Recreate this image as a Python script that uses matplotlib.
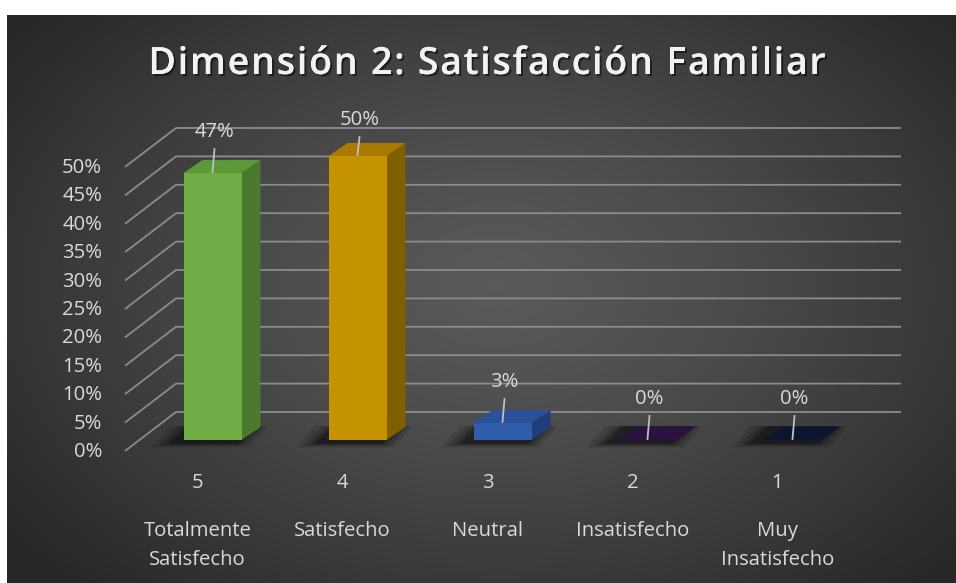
import numpy as np
import matplotlib.pyplot as plt
from matplotlib.patches import Polygon
import matplotlib.transforms as mtransforms
import matplotlib.patheffects as pe

W, H = 956, 583

titulo = 'Dimensión 2: Satisfacción Familiar'
niveles = ['5', '4', '3', '2', '1']
categorias = ['Totalmente\nSatisfecho', 'Satisfecho', 'Neutral', 'Insatisfecho', 'Muy\nInsatisfecho']
porcentajes = [47, 50, 3, 0, 0]
etiquetas = ['47%', '50%', '3%', '0%', '0%']
marcas_y = list(range(0, 55, 5))

color_frente = ['#70ad47', '#c59200', '#2f5cab', '#2b1242', '#0b1530']
color_lado = ['#4b7a2e', '#7f6000', '#1f3d78', '#1d0b2e', '#060d20']
color_tapa = ['#5c9a38', '#a87b00', '#2a519a', '#2b1242', '#0b1530']

texto = '#d9d9d9'
rejilla = '#8c8c8c'
fuente = 'Open Sans'
tam = 14.6

# px por unidad
px_x, px_y = 145.0, 5.68
x0_px, y0_px = 140.0, H - 440.0     # x=-0.5 y y=0 en pixeles
prof_barra = (19, 13)
prof_fondo = (36, 28)
prof_frente = (-15, -11)
ancho = 0.4

fig = plt.figure(figsize=(W / 100, H / 100), dpi=100)
fig.patch.set_facecolor('white')

# fondo con degradado radial
bg = fig.add_axes([7 / W, 0, 1 - 7 / W, 1 - 15 / H])
bg.set_axis_off()
yy, xx = np.mgrid[0:568, 0:949]
r = np.sqrt(((xx - 490) / 620.0) ** 2 + ((yy - 270) / 420.0) ** 2)
r = np.clip(r, 0, 1)
val = 0.35 - (0.35 - 0.15) * r ** 1.3
bg.imshow(np.dstack([val, val, val]), aspect='auto', interpolation='bilinear')

ax = fig.add_axes([0, 0, 1, 1])
ax.set_axis_off()
ax.patch.set_alpha(0)
xl = -0.5 - x0_px / px_x
yl = -y0_px / px_y
ax.set_xlim(xl, xl + W / px_x)
ax.set_ylim(yl, yl + H / px_y)

ident = mtransforms.IdentityTransform()


def pt(x, y, d=(0, 0)):
    p = ax.transData.transform((x, y))
    return (p[0] + d[0], p[1] + d[1])


# rejilla: pared del fondo y diagonales
n = len(niveles)
for v in marcas_y:
    a = pt(-0.5, v, prof_frente)
    b = pt(-0.5, v, prof_fondo)
    c = pt(n - 0.5, v, prof_fondo)
    ax.plot([a[0], b[0], c[0]], [a[1], b[1], c[1]], color=rejilla, lw=1.3,
            transform=ident, zorder=1, solid_capstyle='butt')
    lx, ly = pt(-0.5, v, (prof_frente[0] - 23, prof_frente[1] - 1))
    ax.text(lx, ly, f'{v}%', transform=ident, ha='right', va='center',
            color=texto, fontsize=tam, family=fuente)

# barras 3D
for i, v in enumerate(porcentajes):
    x1, x2 = i - ancho / 2, i + ancho / 2
    # sombra difusa
    for e, al in [(22, 0.12), (15, 0.15), (9, 0.2), (4, 0.25)]:
        sh = [pt(x1, 0, (-10 - e, -3 - e * 0.2)), pt(x2, 0, (-6 + e * 0.6, -3 - e * 0.2)),
              pt(x2, 0, (prof_barra[0] - 6 + e * 0.6, prof_barra[1] + 1)),
              pt(x1, 0, (prof_barra[0] - 10 - e, prof_barra[1] + 1))]
        ax.add_patch(Polygon(sh, closed=True, fc='black', ec='none', alpha=al,
                             transform=ident, zorder=2))
    frente = [pt(x1, 0), pt(x2, 0), pt(x2, v), pt(x1, v)]
    lado = [pt(x2, 0), pt(x2, 0, prof_barra), pt(x2, v, prof_barra), pt(x2, v)]
    tapa = [pt(x1, v), pt(x2, v), pt(x2, v, prof_barra), pt(x1, v, prof_barra)]
    if v > 0:
        ax.add_patch(Polygon(lado, closed=True, fc=color_lado[i], ec='none',
                             transform=ident, zorder=3))
        ax.add_patch(Polygon(frente, closed=True, fc=color_frente[i], ec='none',
                             transform=ident, zorder=3))
    ax.add_patch(Polygon(tapa, closed=True, fc=color_tapa[i], ec='none',
                         transform=ident, zorder=3))

    # etiqueta de datos con linea guia
    top = pt(i, v)
    sep = 41 if v < 48 else 36
    ax.plot([top[0], top[0] + 2], [top[1] + 1, top[1] + sep - 17], color='#bfbfbf',
            lw=1.3, transform=ident, zorder=4)
    ax.text(top[0] + 2, top[1] + sep, etiquetas[i], transform=ident, ha='center',
            va='center', color=texto, fontsize=tam, family=fuente, zorder=5)

    # categorias
    cx, cy = pt(i, 0, prof_frente)
    ax.text(cx, H - 483, niveles[i], transform=ident, ha='center', va='center',
            color=texto, fontsize=tam, family=fuente)
    ax.text(cx, H - 521, categorias[i], transform=ident, ha='center', va='top',
            color=texto, fontsize=tam, family=fuente, linespacing=1.6)

# titulo con espaciado entre letras (como el original)
rend = fig.canvas.get_renderer()
estilo = dict(color='#f2f2f2', fontsize=27, family=fuente, fontweight='semibold')
tmp = fig.text(0, 0, '', **estilo)


def medir(s):
    tmp.set_text(s)
    return tmp.get_window_extent(rend).width


extra = 1.8
base = medir('|')
pos = [0.0] + [medir(titulo[:k] + '|') - base for k in range(1, len(titulo))]
total = medir(titulo) + extra * (len(titulo) - 1)
tmp.remove()
x_ini = 487 - total / 2
for k, ch in enumerate(titulo):
    if ch == ' ':
        continue
    fig.text((x_ini + pos[k] + k * extra) / W, 1 - 64 / H, ch, ha='left', va='center',
             path_effects=[pe.withSimplePatchShadow(offset=(1.5, -1.5), shadow_rgbFace='black',
                                                    alpha=0.5), pe.Normal()], **estilo)

fig.savefig('out.png', dpi=100, facecolor=fig.get_facecolor())
